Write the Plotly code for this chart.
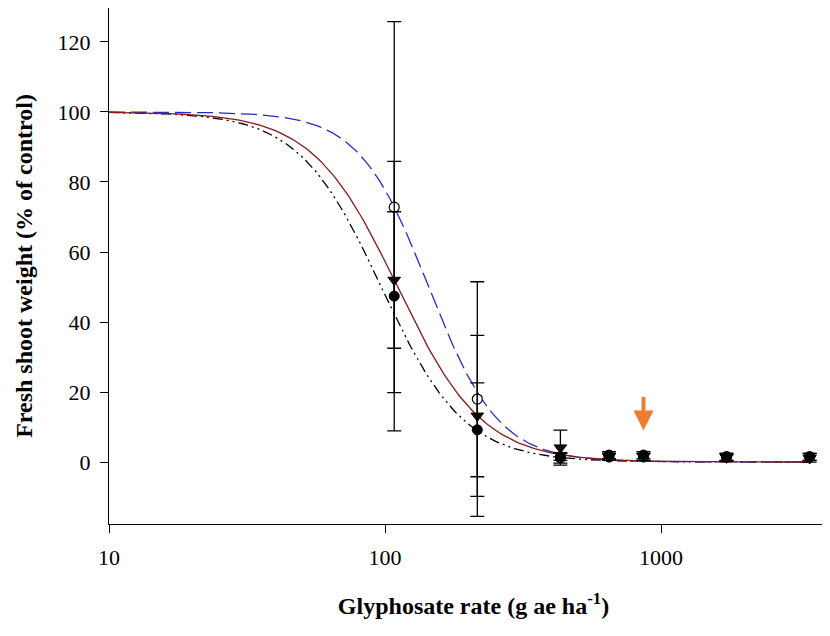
import numpy as np
import plotly.graph_objects as go

# ---- data ----
rates = [108, 216, 432, 648, 864, 1728, 3456]

open_mean = [72.8, 18.0, 1.2, 1.5, 1.5, 1.5, 1.5]
open_err = [53.0, 33.5, 1.5, 1.0, 1.0, 1.0, 1.0]

tri_mean = [52.0, 13.2, 4.1, 1.5, 1.5, 1.2, 1.0]
tri_err = [19.5, 23.0, 5.0, 1.0, 1.0, 1.0, 1.0]

fill_mean = [47.4, 9.2, 1.5, 2.0, 2.0, 1.5, 1.5]
fill_err = [38.5, 13.4, 1.0, 1.0, 1.0, 1.0, 1.0]

# fitted log-logistic curve parameters (ED50, slope)
open_fit = [144.0, 3.43]
tri_fit = [111.0, 2.82]
fill_fit = [97.0, 2.9]

x_ticks = [10, 100, 1000]
y_ticks = [0, 20, 40, 60, 80, 100, 120]

arrow_rate = 864

curve_x = np.logspace(1, np.log10(3456), 300)


def loglogistic(x, p):
    return 100.0 / (1.0 + (x / p[0]) ** p[1])


fig = go.Figure()

fig.add_trace(go.Scatter(x=curve_x, y=loglogistic(curve_x, fill_fit), mode="lines",
                         line=dict(color="black", width=1.3, dash="10px,4px,2px,4px,2px,4px"),
                         showlegend=False, hoverinfo="skip"))
fig.add_trace(go.Scatter(x=curve_x, y=loglogistic(curve_x, open_fit), mode="lines",
                         line=dict(color="#2A2AC8", width=1.3, dash="16px,6px"),
                         showlegend=False, hoverinfo="skip"))
fig.add_trace(go.Scatter(x=curve_x, y=loglogistic(curve_x, tri_fit), mode="lines",
                         line=dict(color="#8B1A1A", width=1.3),
                         showlegend=False, hoverinfo="skip"))

err_style = dict(type="data", visible=True, color="black", thickness=1.3, width=7)

fig.add_trace(go.Scatter(x=rates, y=open_mean, mode="markers",
                         error_y=dict(array=open_err, **err_style),
                         marker=dict(symbol="circle", size=10, color="white",
                                     line=dict(color="black", width=1.2)),
                         showlegend=False))
fig.add_trace(go.Scatter(x=rates, y=tri_mean, mode="markers",
                         error_y=dict(array=tri_err, **err_style),
                         marker=dict(symbol="triangle-down", size=11, color="#1a0a0a",
                                     line=dict(color="black", width=1)),
                         showlegend=False))
fig.add_trace(go.Scatter(x=rates, y=fill_mean, mode="markers",
                         error_y=dict(array=fill_err, **err_style),
                         marker=dict(symbol="circle", size=10, color="black",
                                     line=dict(color="black", width=1)),
                         showlegend=False))

# orange arrow marking the 864 g ae/ha rate
fig.add_annotation(x=np.log10(arrow_rate), y=9.0, ax=np.log10(arrow_rate), ay=19.0,
                   xref="x", yref="y", axref="x", ayref="y",
                   text="", showarrow=True, arrowhead=2, arrowsize=1.0,
                   arrowwidth=4, arrowcolor="#ED7D31")

font_family = "Liberation Serif, Times New Roman, serif"

fig.update_layout(
    width=830, height=636,
    margin=dict(l=101, r=0, t=0, b=120, autoexpand=False),
    paper_bgcolor="white", plot_bgcolor="white",
    font=dict(family=font_family, color="black", size=22),
)
fig.update_xaxes(
    type="log", range=[1, 1 + 729 / 276],
    tickvals=x_ticks, ticktext=[str(v) for v in x_ticks],
    ticks="outside", ticklen=8, tickwidth=1, tickcolor="black",
    showline=True, linecolor="black", linewidth=1, mirror=True,
    showgrid=False, zeroline=False, automargin=False,
    tickfont=dict(size=22, family=font_family),
    ticklabelstandoff=6,
    title=dict(text="<b>Glyphosate rate (g ae ha<sup>-1</sup>)</b>",
               font=dict(size=24, family=font_family), standoff=27),
)
fig.update_yaxes(
    range=[-17.7, 129.7],
    tickvals=y_ticks,
    ticks="outside", ticklen=8, tickwidth=1, tickcolor="black",
    showline=True, linecolor="black", linewidth=1, mirror=False,
    showgrid=False, zeroline=False, automargin=False,
    tickfont=dict(size=22, family=font_family),
    ticklabelstandoff=5,
    title=dict(text="<b>Fresh shoot weight (% of control)</b>",
               font=dict(size=24, family=font_family), standoff=18),
)

fig.write_html("out.html")
